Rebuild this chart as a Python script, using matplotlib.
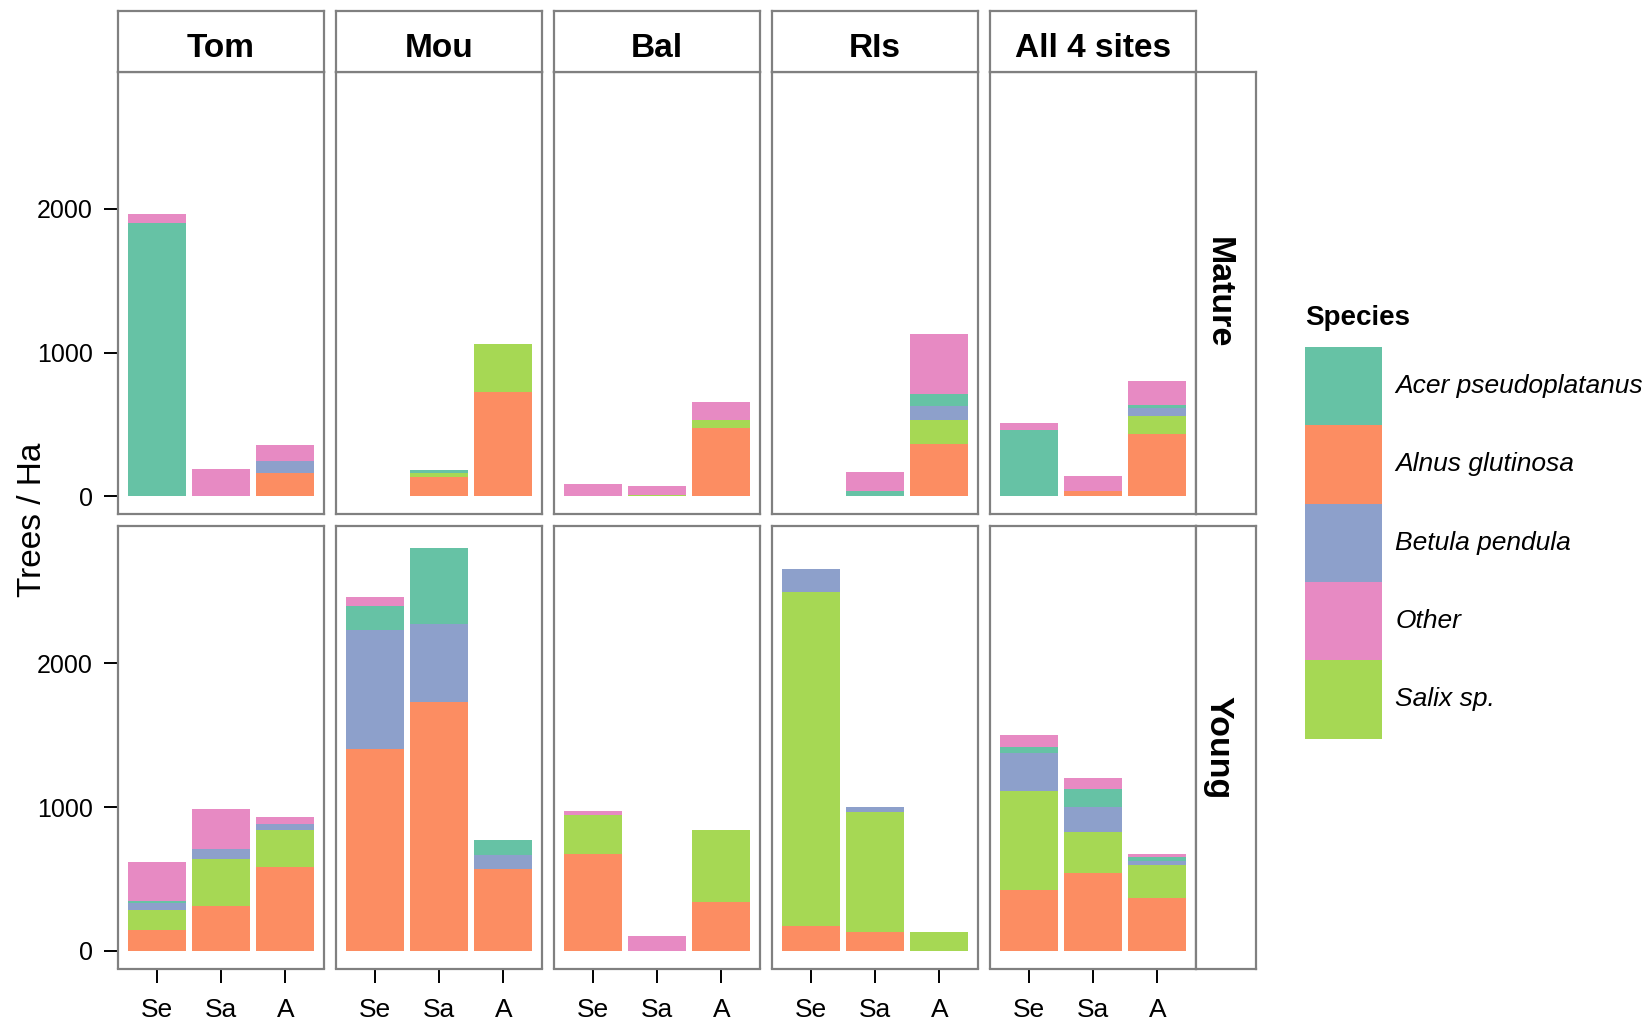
import matplotlib
matplotlib.use("Agg")
import matplotlib.pyplot as plt
from matplotlib.patches import Patch

# ------------------------------------------
# DATA (trees / ha), 5 sites x 3 classes each
# ------------------------------------------
sites = ["Tom", "Mou", "Bal", "RIs", "All 4 sites"]
ages = ["Mature", "Young"]
classes = ["Se", "Sa", "A"]

# stacking order from bottom: Alnus, Salix, Betula, Acer, Other
mature_alnus = [0, 0, 163,   0, 137, 723,   0, 0, 478,   0, 0, 366,   0, 40, 436]
mature_salix = [0, 0, 0,     0, 26, 335,    0, 12, 56,   0, 0, 168,   0, 0, 126]
mature_betula = [0, 0, 84,   0, 0, 0,       0, 0, 0,     0, 0, 93,    0, 0, 51]
mature_acer = [1900, 0, 0,   0, 21, 0,      0, 0, 0,     0, 40, 82,   464, 0, 26]
mature_other = [63, 190, 112, 0, 0, 0,      86, 60, 126, 0, 130, 419, 49, 102, 161]

young_alnus = [147, 314, 584,  1402, 1728, 570,  677, 0, 342,   174, 133, 0,   426, 542, 370]
young_salix = [139, 326, 258,  0, 0, 0,          265, 0, 500,   2321, 834, 130, 688, 286, 228]
young_betula = [47, 69, 42,    828, 544, 97,     0, 0, 0,       161, 35, 0,    260, 170, 28]
young_acer = [11, 0, 0,        168, 530, 105,    0, 0, 0,       0, 0, 0,       42, 130, 25]
young_other = [275, 279, 49,   62, 0, 0,         32, 102, 0,    0, 0, 0,       89, 77, 23]

species_stack = ["Alnus glutinosa", "Salix sp.", "Betula pendula",
                 "Acer pseudoplatanus", "Other"]
species_legend = ["Acer pseudoplatanus", "Alnus glutinosa", "Betula pendula",
                  "Other", "Salix sp."]
colors = {"Acer pseudoplatanus": "#66C2A5", "Alnus glutinosa": "#FC8D62",
          "Betula pendula": "#8DA0CB", "Other": "#E78AC3", "Salix sp.": "#A6D854"}

data = {
    "Mature": [mature_alnus, mature_salix, mature_betula, mature_acer, mature_other],
    "Young": [young_alnus, young_salix, young_betula, young_acer, young_other],
}

# ------------------------------------------
# LAYOUT
# ------------------------------------------
plt.rcParams['font.family'] = ['Liberation Sans', 'DejaVu Sans']
W, H = 1648, 1025
fig = plt.figure(figsize=(W / 100, H / 100), dpi=100)

border = "#808080"
left0, step, pw = 118, 218, 206
strip_top, strip_bot = 10.5, 71.5
row_tops = [71.5, 526]
ph = 442.5


def frac(x0, y0, w, h):
    return [x0 / W, 1 - (y0 + h) / H, w / W, h / H]


def style_box(a):
    a.set_xticks([])
    a.set_yticks([])
    for s in a.spines.values():
        s.set_color(border)
        s.set_linewidth(1.6)


x = [1, 2, 3]
for r, age in enumerate(ages):
    for c, site in enumerate(sites):
        ax = fig.add_axes(frac(left0 + c * step, row_tops[r], pw, ph))
        bottom = [0, 0, 0]
        for sp, vals in zip(species_stack, data[age]):
            v = vals[c * 3:c * 3 + 3]
            ax.bar(x, v, width=0.9, bottom=bottom, color=colors[sp], linewidth=0)
            bottom = [b + vv for b, vv in zip(bottom, v)]
        ax.set_xlim(0.4, 3.6)
        ax.set_ylim(-122, 2955)
        for s in ax.spines.values():
            s.set_color(border)
            s.set_linewidth(1.6)
        ax.set_yticks([0, 1000, 2000])
        ax.set_xticks(x)
        ax.tick_params(length=10, width=1.4, color="black", labelsize=18)
        ax.tick_params(axis="y", pad=8)
        ax.tick_params(axis="x", pad=11, labelsize=19)
        if c == 0:
            ax.set_yticklabels(["0", "1000", "2000"])
        else:
            ax.tick_params(axis="y", left=False, labelleft=False)
        if r == 1:
            ax.set_xticklabels(classes)
        else:
            ax.tick_params(axis="x", bottom=False, labelbottom=False)

        # column strips
        if r == 0:
            sax = fig.add_axes(frac(left0 + c * step, strip_top, pw, strip_bot - strip_top))
            style_box(sax)
            sax.text(0.5, 0.37, site, ha="center", va="center",
                     fontsize=24, fontweight="bold")

    # row strips
    rax = fig.add_axes(frac(left0 + 4 * step + pw, row_tops[r], 60, ph))
    style_box(rax)
    rax.text(0.37, 0.5, age, ha="center", va="center", rotation=-90,
             fontsize=24.5, fontweight="bold")

fig.text(33 / W, 1 - 520 / H, "Trees / Ha", rotation=90, ha="center",
         va="center", fontsize=24)

# ------------------------------------------
# LEGEND
# ------------------------------------------
fig.text(1305 / W, 1 - 318 / H, "Species", ha="left", va="center",
         fontsize=20, fontweight="bold")
handles = [Patch(facecolor=colors[s], edgecolor="none") for s in species_legend]
leg = fig.legend(handles, species_legend, loc="upper left",
                 bbox_to_anchor=(1305 / W, 1 - 347 / H), frameon=False,
                 prop={"size": 19, "style": "italic"},
                 handlelength=2.92, handleheight=4.19, labelspacing=0,
                 handletextpad=0.5, borderpad=0, borderaxespad=0)

plt.savefig("out.png", dpi=100)
